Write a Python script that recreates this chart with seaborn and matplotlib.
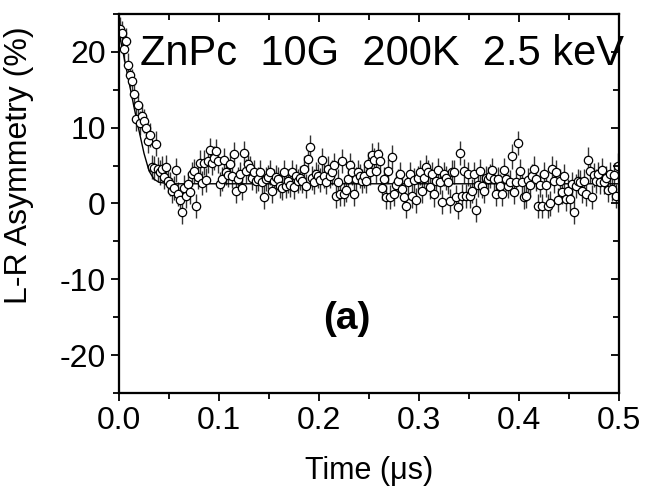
import numpy as np
import pandas as pd
import matplotlib
matplotlib.use("Agg")
import matplotlib.pyplot as plt
import seaborn as sns
from matplotlib.ticker import MultipleLocator

# time bins (us): first bin centre and bin width
t_first = 0.001
t_bin = 0.002

# L-R asymmetry (%), one value per bin
asym_early = [23.0, 22.5, 20.4, 21.5, 18.3, 17.0, 16.2, 14.5, 11.1, 13.0,
              10.6, 11.5, 10.9, 10.0, 8.2, 9.0, 4.8, 4.7, 7.9, 4.5,
              4.1, 4.6, 3.5, 4.8, 3.0, 2.6, 1.7, 2.0, 4.4, 1.3,
              0.5, -1.1, 2.1, 1.0, 2.6, 1.5, 3.9, 4.3, -0.3, 3.5,
              5.4, 2.7]
asym_b = [5.4, 3.1, 5.6, 7.0, 5.4, 6.0, 6.9, 5.6, 2.6, 3.2,
          5.7, 4.1, 3.8, 5.2, 3.6, 6.5, 1.7, 3.2, 3.9, 2.0,
          6.7, 4.3, 5.2, 4.7, 3.4, 4.1, 3.0, 3.2, 4.1, 2.8,
          0.9, 3.2, 3.5, 4.1, 1.6, 3.0, 3.5, 3.2, 2.3, 2.1,
          4.1, 2.3, 3.0, 2.5]
asym_c = [4.1, 2.2, 3.6, 3.0, 3.4, 3.0, 4.6, 2.3, 5.9, 7.5,
          3.4, 2.9, 3.9, 3.6, 3.1, 5.7, 3.6, 2.9, 4.6, 3.6,
          4.1, 5.1, 1.0, 2.9, 1.3, 5.6, 1.3, 1.8, 3.2, 5.1,
          4.1, 1.3, 3.2, 4.2, 3.6, 3.0, 3.6, 3.0, 5.2, 4.1,
          6.4, 5.7]
asym_d = [4.3, 6.5, 5.6, 2.0, 3.2, 0.9, 4.3, 0.9, 6.1, 1.3,
          2.5, 3.0, 3.9, 1.9, 0.9, -0.3, 2.8, 3.9, 1.0, 3.1,
          0.4, 3.4, 4.1, 1.7, 3.4, 4.8, 4.1, 2.2, 3.9, 1.2,
          3.0, 4.4, 2.9, 0.2, 3.9, 3.4, 2.8, 0.3, 4.2, 4.2,
          0.8, -0.5]
asym_e = [6.7, 1.0, 4.3, 1.0, 3.9, 1.0, 1.6, 3.9, -0.9, 2.5,
          4.3, 2.3, 1.7, 3.4, 3.2, 3.6, 4.4, 3.2, 1.3, 3.2,
          2.3, 1.3, 4.4, 3.2, 2.3, 2.8, 6.2, 1.5, 2.8, 8.0,
          4.3, 2.8, 0.9, 1.0, 3.1, 2.5, 3.6, 4.6, 3.2, -0.3,
          2.5, -0.3]
asym_f = [3.9, 2.5, -0.3, 0.0, 4.6, 3.0, 4.2, 0.5, 3.0, 1.5,
          3.6, 0.6, 1.6, 0.6, 2.6, -1.1, 2.3, 3.0, 2.8, 1.6,
          3.0, 1.3, 5.8, 4.3, 0.9, 3.8, 3.0, 3.9, 2.8, 4.4,
          2.8, 3.4, 1.8, 3.9, 1.9, 3.8, 1.0, 5.0]
asym_err = 1.6

# fitted curve
fit_time = [0.0, 0.005, 0.010, 0.015, 0.020, 0.025, 0.030, 0.035, 0.040, 0.050, 0.5]
fit_asym = [22.5, 19.3, 16.0, 12.7, 9.6, 6.6, 4.3, 3.2, 2.8, 2.6, 2.6]

asym = asym_early + asym_b + asym_c + asym_d + asym_e + asym_f
time = t_first + t_bin * np.arange(len(asym))
df = pd.DataFrame({"time": time, "asym": asym})
fit_df = pd.DataFrame({"time": fit_time, "asym": fit_asym})

sns.set_style("ticks")
plt.rcParams["font.family"] = ["Liberation Sans", "DejaVu Sans"]
plt.rcParams["axes.unicode_minus"] = False
plt.rcParams["text.color"] = "black"
plt.rcParams["axes.labelcolor"] = "black"

fig = plt.figure(figsize=(6.71, 4.87), dpi=100)
ax = fig.add_axes([0.1774, 0.193, 0.7452, 0.7783])

ax.errorbar(df["time"], df["asym"], yerr=asym_err, fmt="none",
            ecolor="0.2", elinewidth=1.0, zorder=1)
sns.lineplot(data=fit_df, x="time", y="asym", color="black", lw=1.0,
             ax=ax, zorder=2)
sns.scatterplot(data=df, x="time", y="asym", ax=ax, s=36, marker="o",
                facecolor="white", edgecolor="black", linewidth=0.9, zorder=3)

ax.set_xlim(0, 0.5)
ax.set_ylim(-25, 25)
ax.xaxis.set_major_locator(MultipleLocator(0.1))
ax.xaxis.set_minor_locator(MultipleLocator(0.05))
ax.yaxis.set_major_locator(MultipleLocator(10))
ax.yaxis.set_minor_locator(MultipleLocator(5))
ax.xaxis.set_major_formatter(matplotlib.ticker.FormatStrFormatter("%.1f"))

for s in ax.spines.values():
    s.set_linewidth(1.5)
    s.set_color("black")
ax.tick_params(which="both", width=1.3, labelsize=23, colors="black",
               direction="out", bottom=True, left=True, top=False, right=False)
ax.tick_params(which="major", length=6)
ax.tick_params(which="minor", length=4)

# inward ticks on top and right, no labels
ax_top = ax.twiny()
ax_top.set_xlim(ax.get_xlim())
ax_top.xaxis.set_major_locator(MultipleLocator(0.1))
ax_top.xaxis.set_minor_locator(MultipleLocator(0.05))
ax_top.tick_params(which="both", direction="in", width=1.3, top=True,
                   labeltop=False, colors="black")
ax_top.tick_params(which="major", length=6)
ax_top.tick_params(which="minor", length=4)
ax_right = ax.twinx()
ax_right.set_ylim(ax.get_ylim())
ax_right.yaxis.set_major_locator(MultipleLocator(10))
ax_right.yaxis.set_minor_locator(MultipleLocator(5))
ax_right.tick_params(which="both", direction="in", width=1.3, right=True,
                     labelright=False, colors="black")
ax_right.tick_params(which="major", length=6)
ax_right.tick_params(which="minor", length=4)
for a in (ax_top, ax_right):
    for s in a.spines.values():
        s.set_linewidth(1.5)
        s.set_color("black")

ax.set_xlabel("Time (\u03bcs)", fontsize=22, labelpad=14)
ax.set_ylabel("L-R Asymmetry (%)", fontsize=23)
ax.yaxis.set_label_coords(-0.17, 0.6)

ax.text(0.042, 0.865, "ZnPc  10G  200K  2.5 keV", transform=ax.transAxes,
        fontsize=30, ha="left", va="baseline")
ax.text(0.228, -15.2, "(a)", fontsize=28, fontweight="bold",
        ha="center", va="center")

fig.savefig("out.png", dpi=100)
